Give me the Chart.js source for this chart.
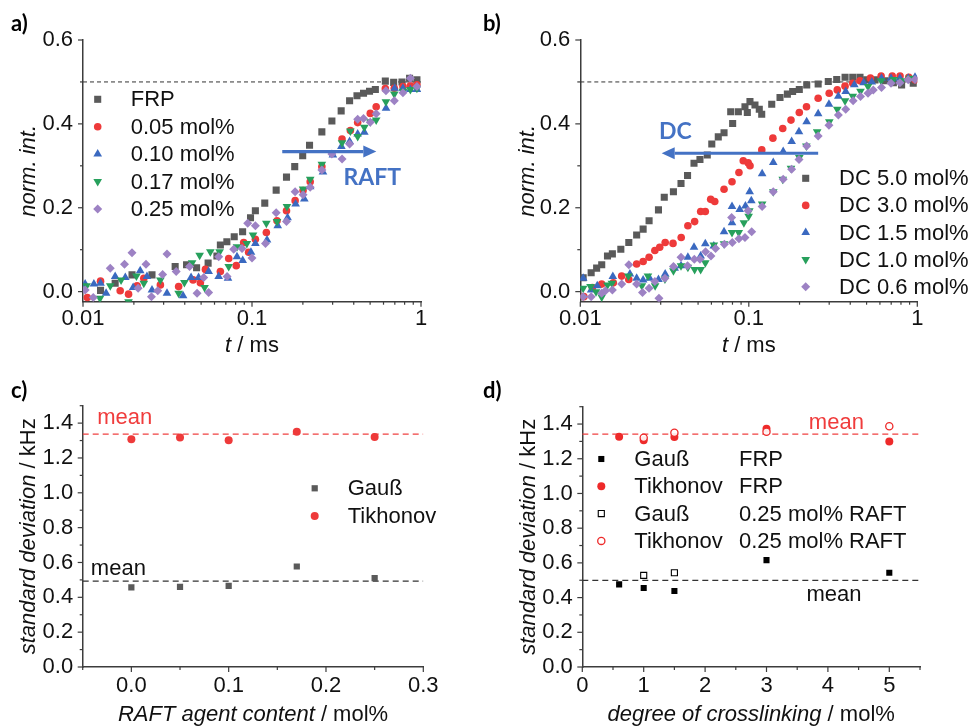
<!DOCTYPE html>
<html><head><meta charset="utf-8">
<script src="https://cdn.jsdelivr.net/npm/chart.js@4/dist/chart.umd.min.js"></script>
<style>
html,body{margin:0;padding:0;background:#fff;}
#wrap{position:relative;width:975px;height:726px;background:#fff;overflow:hidden;}
canvas{position:absolute;}
</style></head><body>
<div id="wrap">
<canvas id="ca" width="470" height="363" style="left:0;top:0"></canvas>
<canvas id="cb" width="505" height="363" style="left:470px;top:0"></canvas>
<canvas id="cc" width="470" height="363" style="left:0;top:363px"></canvas>
<canvas id="cd" width="505" height="363" style="left:470px;top:363px"></canvas>
</div>
<script>
// ---------------- DATA ----------------
// panel a: RAFT series, t / ms vs norm. int.
const A_FRP_T = [0.0127,0.0155,0.0195,0.0256,0.0351,0.041,0.047,0.055,0.062,0.065,0.071,0.0785,0.088,0.098,0.1047,0.119,0.139,0.16,0.179,0.1995,0.219,0.259,0.297,0.337,0.378,0.418,0.457,0.496,0.537,0.615,0.689,0.772,0.856,0.946];
const A_FRP_Y = [0.003,0.020,0.040,0.040,0.060,0.064,0.057,0.068,0.085,0.111,0.119,0.131,0.143,0.176,0.193,0.211,0.242,0.273,0.298,0.324,0.349,0.381,0.407,0.431,0.455,0.467,0.473,0.478,0.482,0.502,0.499,0.500,0.509,0.505];
const A_R05_T = [0.0106,0.0127,0.0166,0.0186,0.0209,0.0229,0.0287,0.0368,0.0448,0.0495,0.053,0.065,0.0728,0.0807,0.0893,0.0955,0.1047,0.1216,0.1406,0.16,0.18,0.2005,0.221,0.259,0.341,0.382,0.422,0.501,0.543,0.615,0.695,0.782,0.865,0.946];
const A_R05_Y = [-0.014,0.025,0.002,-0.006,0.014,0.032,0.016,0.012,0.028,0.021,0.053,0.048,0.079,0.062,0.117,0.094,0.125,0.141,0.169,0.193,0.217,0.241,0.262,0.298,0.364,0.384,0.403,0.425,0.441,0.484,0.485,0.489,0.491,0.493];
const A_R10_T = [0.0103,0.0116,0.0127,0.0137,0.0155,0.0178,0.0198,0.0218,0.0239,0.0256,0.0314,0.0391,0.0436,0.0483,0.0554,0.0635,0.0721,0.0815,0.0881,0.0986,0.1047,0.1227,0.142,0.1624,0.1812,0.204,0.221,0.263,0.301,0.338,0.378,0.422,0.462,0.621,0.698,0.782,0.865,0.946];
const A_R10_Y = [0.018,0.018,0.020,-0.004,0.036,0.034,0.010,0.050,0.036,0.004,-0.004,-0.010,0.034,0.034,0.048,0.036,0.032,0.083,0.074,0.094,0.115,0.123,0.157,0.176,0.209,0.221,0.250,0.285,0.326,0.346,0.358,0.376,0.380,0.437,0.485,0.485,0.482,0.482];
const A_R17_T = [0.0105,0.0126,0.0145,0.0168,0.0186,0.0207,0.0229,0.0287,0.0368,0.0398,0.0442,0.049,0.0524,0.0567,0.0643,0.0728,0.0815,0.0932,0.1014,0.1216,0.1406,0.161,0.2005,0.221,0.259,0.341,0.382,0.422,0.462,0.501,0.543,0.62,0.695,0.782,0.865,0.946];
const A_R17_Y = [0.014,-0.016,0.014,0.028,-0.024,0.037,0.020,0.028,-0.004,0.022,0.069,0.087,0.010,0.095,0.095,0.060,0.107,0.115,0.135,0.163,0.167,0.203,0.245,0.268,0.304,0.355,0.383,0.370,0.392,0.405,0.409,0.453,0.471,0.478,0.482,0.485];
const A_R25_T = [0.0103,0.0115,0.0145,0.0176,0.0195,0.0212,0.0236,0.0254,0.0277,0.0296,0.0314,0.0356,0.0427,0.0473,0.0518,0.0554,0.0635,0.0712,0.0779,0.0873,0.0943,0.1,0.1047,0.1202,0.139,0.16,0.18,0.2005,0.221,0.259,0.297,0.341,0.378,0.422,0.457,0.501,0.543,0.62,0.695,0.782,0.865,0.946];
const A_R25_Y = [0.004,-0.014,0.056,0.065,0.093,0.008,0.065,-0.012,0.002,0.041,0.090,0.048,0.060,-0.004,0.034,-0.002,0.083,0.036,0.101,0.103,0.163,0.080,0.157,0.115,0.188,0.167,0.238,0.231,0.249,0.290,0.328,0.316,0.352,0.411,0.413,0.404,0.424,0.479,0.455,0.474,0.509,0.489];

// panel b: degree of crosslinking series
const B_DC50_T = [0.0104,0.0116,0.0125,0.0134,0.0145,0.0155,0.0174,0.0194,0.0216,0.0236,0.0256,0.0291,0.0315,0.0357,0.0396,0.0433,0.0473,0.0513,0.0567,0.0603,0.0659,0.0713,0.0781,0.0802,0.0867,0.0949,0.098,0.1016,0.1088,0.1154,0.1193,0.1368,0.1532,0.1694,0.182,0.1994,0.2207,0.258,0.2963,0.3325,0.3727,0.414,0.457,0.501,0.561,0.643,0.721,0.807,0.946];
const B_DC50_Y = [0.033,0.045,0.056,0.064,0.085,0.090,0.101,0.117,0.135,0.149,0.169,0.195,0.225,0.238,0.258,0.277,0.306,0.315,0.326,0.352,0.369,0.379,0.429,0.401,0.429,0.441,0.427,0.453,0.445,0.435,0.423,0.447,0.463,0.471,0.477,0.482,0.493,0.495,0.501,0.506,0.511,0.511,0.511,0.505,0.505,0.503,0.498,0.493,0.497];
const B_DC30_T = [0.0105,0.0118,0.0134,0.0157,0.0176,0.0194,0.0216,0.0236,0.0256,0.0277,0.0296,0.0319,0.0355,0.0397,0.0435,0.0477,0.0518,0.0552,0.0594,0.0628,0.0713,0.0795,0.0874,0.0927,0.0992,0.1017,0.1194,0.139,0.159,0.178,0.1994,0.22,0.258,0.30,0.335,0.3725,0.414,0.457,0.527,0.61,0.71,0.79,0.89,0.969];
const B_DC30_Y = [-0.012,0.010,0.018,0.021,0.037,0.029,0.066,0.072,0.082,0.098,0.106,0.117,0.115,0.129,0.157,0.167,0.191,0.191,0.220,0.215,0.244,0.262,0.284,0.312,0.307,0.300,0.338,0.366,0.389,0.409,0.427,0.441,0.461,0.473,0.481,0.490,0.497,0.503,0.509,0.514,0.514,0.514,0.511,0.505];
const B_DC15_T = [0.0104,0.0116,0.0126,0.0156,0.0197,0.0216,0.0236,0.0258,0.0291,0.0319,0.0363,0.0396,0.0435,0.0473,0.0518,0.0552,0.062,0.0713,0.0795,0.0795,0.0883,0.0955,0.1012,0.1035,0.120,0.1397,0.160,0.1796,0.1985,0.2205,0.258,0.299,0.340,0.376,0.423,0.48,0.537,0.613,0.698,0.789,0.883,0.969];
const B_DC15_Y = [0.032,0.004,0.014,0.036,0.042,0.032,0.028,0.032,0.029,0.042,0.056,0.062,0.082,0.106,0.085,0.114,0.109,0.143,0.164,0.203,0.196,0.204,0.238,0.217,0.281,0.308,0.334,0.358,0.381,0.405,0.424,0.447,0.466,0.477,0.493,0.498,0.500,0.509,0.509,0.509,0.509,0.511];
const B_DC10_T = [0.0104,0.0115,0.0124,0.0134,0.0145,0.0154,0.0193,0.0232,0.0252,0.0278,0.0318,0.0357,0.0396,0.0435,0.0477,0.0518,0.0552,0.062,0.0713,0.0795,0.0872,0.0935,0.0998,0.1007,0.120,0.1397,0.159,0.178,0.1994,0.2196,0.2545,0.3005,0.335,0.3725,0.414,0.46,0.51,0.61,0.721,0.81,0.9];
const B_DC10_Y = [0.008,0.012,0.000,-0.013,0.016,0.020,0.037,0.014,0.037,0.014,0.030,0.050,0.062,0.058,0.053,0.053,0.069,0.111,0.114,0.141,0.141,0.164,0.180,0.193,0.209,0.238,0.268,0.294,0.320,0.347,0.381,0.405,0.435,0.455,0.466,0.478,0.489,0.503,0.506,0.503,0.509];
const B_DC06_T = [0.0104,0.0116,0.0134,0.0141,0.0155,0.0176,0.0194,0.0216,0.0234,0.0256,0.0277,0.0293,0.0318,0.0357,0.0396,0.0433,0.0475,0.0513,0.0554,0.0596,0.0635,0.0716,0.0791,0.0798,0.0874,0.0949,0.099,0.104,0.120,0.1397,0.160,0.1796,0.1985,0.2205,0.258,0.299,0.340,0.376,0.416,0.46,0.51,0.548,0.613,0.698,0.789,0.883,0.969];
const B_DC06_Y = [-0.012,-0.012,-0.004,0.002,0.004,0.018,0.064,0.018,-0.002,0.008,0.024,-0.016,0.032,0.060,0.082,0.062,0.077,0.077,0.095,0.085,0.103,0.113,0.177,0.117,0.126,0.129,0.193,0.143,0.203,0.238,0.268,0.292,0.315,0.347,0.371,0.397,0.421,0.435,0.455,0.465,0.473,0.481,0.487,0.497,0.498,0.505,0.506];
const AB_PLATEAU = 0.5;

// panel c: standard deviation vs RAFT agent content
const C_RAFT = [0, 0.05, 0.1, 0.17, 0.25];
const C_GAUSS = [0.457, 0.460, 0.466, 0.577, 0.510];
const C_TIKH = [1.307, 1.318, 1.301, 1.351, 1.320];
const C_MEAN_GAUSS = 0.493;
const C_MEAN_TIKH = 1.337;

// panel d: standard deviation vs degree of crosslinking
const D_DC = [0.6, 1.0, 1.5, 3.0, 5.0];
const D_GAUSS_FRP = [0.476, 0.455, 0.438, 0.616, 0.543];
const D_TIKH_FRP = [1.327, 1.306, 1.325, 1.373, 1.300];
const D_DC_RAFT_G = [1.0, 1.5];
const D_GAUSS_RAFT = [0.528, 0.543];
const D_DC_RAFT_T = [1.0, 1.5, 3.0, 5.0];
const D_TIKH_RAFT = [1.321, 1.350, 1.356, 1.387];
const D_MEAN_GAUSS = 0.499;
const D_MEAN_TIKH = 1.342;

// tick labels
const LOG_MAJOR = [0.01, 0.1, 1];
const LOG_MINOR = [0.02,0.03,0.04,0.05,0.06,0.07,0.08,0.09,0.2,0.3,0.4,0.5,0.6,0.7,0.8,0.9];
const AB_Y_MAJOR = [0, 0.2, 0.4, 0.6];
const AB_Y_MINOR = [0.1, 0.3, 0.5];
const CD_Y_MAJOR = [0, 0.2, 0.4, 0.6, 0.8, 1.0, 1.2, 1.4];
const CD_Y_MINOR = [0.1, 0.3, 0.5, 0.7, 0.9, 1.1, 1.3, 1.5];
const C_X_MAJOR = [0, 0.1, 0.2, 0.3];
const C_X_MINOR = [-0.05, 0.05, 0.15, 0.25];
const D_X_MAJOR = [0, 1, 2, 3, 4, 5];
const D_X_MINOR = [0.5, 1.5, 2.5, 3.5, 4.5, 5.5];

// ---------------- STYLE ----------------
const FONT = '"Liberation Sans", Arial, sans-serif';
const BFONT = 'Lato, "Open Sans", sans-serif';
const AXIS = '#3c3c3c';
const TXT = '#111';
const GRAY = '#5a5a5a', RED = '#ee3a3a', BLUE = '#3a69c0', GREEN = '#27a05c', PURPLE = '#9d82c4', ARROW = '#4472c4';
const FS = 22;

function pts(xs, ys) { return xs.map((x, i) => ({x, y: ys[i]})); }
function sc(label, xs, ys, style, color, r, extra) {
  return Object.assign({label, data: pts(xs, ys), pointStyle: style, pointRadius: r, pointHoverRadius: r,
    pointBackgroundColor: color, pointBorderColor: color, pointBorderWidth: 0, showLine: false}, extra || {});
}
function hline(x0, x1, y, color, dash, w) {
  return {label: '_line', data: [{x: x0, y}, {x: x1, y}], showLine: true, borderColor: color, borderWidth: w,
    borderDash: dash, pointRadius: 0, pointHoverRadius: 0, fill: false, order: 50};
}
function axis(type, min, max, major, fmt, pos, size, pad) {
  return {
    type, min, max, position: pos,
    afterBuildTicks: s => { s.ticks = major.map(v => ({value: v})); },
    afterFit: s => { if (pos === 'bottom') s.height = size; else s.width = size; },
    ticks: {callback: fmt, font: {family: FONT, size: FS}, color: TXT, padding: pad, autoSkip: false, maxRotation: 0, minRotation: 0},
    grid: {display: true, drawOnChartArea: false, drawTicks: false},
    border: {display: true, color: AXIS, width: 1.5}
  };
}

function drawMarker(ctx, m, x, y) {
  const r = m.r;
  ctx.save();
  ctx.beginPath();
  if (m.style === 'rect') { const s = r * Math.SQRT1_2; ctx.rect(x - s, y - s, 2 * s, 2 * s); }
  else if (m.style === 'circle') { ctx.arc(x, y, r, 0, Math.PI * 2); }
  else if (m.style === 'triangle') { ctx.moveTo(x, y - r); ctx.lineTo(x + r * 0.866, y + r / 2); ctx.lineTo(x - r * 0.866, y + r / 2); ctx.closePath(); }
  else if (m.style === 'down') { ctx.moveTo(x, y + r); ctx.lineTo(x + r * 0.866, y - r / 2); ctx.lineTo(x - r * 0.866, y - r / 2); ctx.closePath(); }
  else if (m.style === 'rectRot') { ctx.moveTo(x - r, y); ctx.lineTo(x, y - r); ctx.lineTo(x + r, y); ctx.lineTo(x, y + r); ctx.closePath(); }
  if (m.fill) { ctx.fillStyle = m.fill; ctx.fill(); }
  if (m.stroke) { ctx.strokeStyle = m.stroke; ctx.lineWidth = m.lw || 1; ctx.stroke(); }
  ctx.restore();
}
function drawRich(ctx, segs, x, y, size, align) {
  const fonts = segs.map(s => (s.i ? 'italic ' : '') + size + 'px ' + FONT);
  let total = 0;
  const w = segs.map((s, k) => { ctx.font = fonts[k]; const m = ctx.measureText(s.t).width; total += m; return m; });
  let cx = align === 'center' ? x - total / 2 : x;
  ctx.textAlign = 'left';
  segs.forEach((s, k) => { ctx.font = fonts[k]; ctx.fillText(s.t, cx, y); cx += w[k]; });
}

const deco = {
  id: 'deco',
  afterDraw(chart, args, o) {
    const ctx = chart.ctx, ca = chart.chartArea, xs = chart.scales.x, ys = chart.scales.y;
    ctx.save();
    // tick marks
    ctx.strokeStyle = AXIS; ctx.lineWidth = 1.2;
    [[o.xMajor, 5], [o.xMinor, 3]].forEach(([list, len]) => list.forEach(v => {
      const p = xs.getPixelForValue(v);
      ctx.beginPath(); ctx.moveTo(p, ca.bottom); ctx.lineTo(p, ca.bottom + len); ctx.stroke();
    }));
    [[o.yMajor, 5], [o.yMinor, 3]].forEach(([list, len]) => list.forEach(v => {
      const p = ys.getPixelForValue(v);
      ctx.beginPath(); ctx.moveTo(ca.left, p); ctx.lineTo(ca.left - len, p); ctx.stroke();
    }));
    // axis titles
    ctx.fillStyle = TXT; ctx.textBaseline = 'alphabetic';
    drawRich(ctx, o.xTitle, (ca.left + ca.right) / 2, o.xTitleY, FS, 'center');
    ctx.save();
    ctx.translate(o.yTitleX, (ca.top + ca.bottom) / 2);
    ctx.rotate(-Math.PI / 2);
    drawRich(ctx, o.yTitle, 0, 0, FS, 'center');
    ctx.restore();
    // panel label
    ctx.font = 'bold 22px ' + BFONT; ctx.textAlign = 'left'; ctx.fillStyle = '#000';
    ctx.fillText(o.panel.t, o.panel.x, o.panel.y);
    // arrows
    (o.arrows || []).forEach(a => {
      const x0 = xs.getPixelForValue(a.x0), x1 = xs.getPixelForValue(a.x1), y = ys.getPixelForValue(a.y);
      const dir = Math.sign(x1 - x0), hl = 13, hw = 6;
      ctx.strokeStyle = ARROW; ctx.fillStyle = ARROW; ctx.lineWidth = 3.2;
      ctx.beginPath(); ctx.moveTo(x0, y); ctx.lineTo(x1 - dir * hl, y); ctx.stroke();
      ctx.beginPath(); ctx.moveTo(x1, y); ctx.lineTo(x1 - dir * hl, y - hw); ctx.lineTo(x1 - dir * hl, y + hw); ctx.closePath(); ctx.fill();
    });
    // text notes
    (o.notes || []).forEach(n => {
      ctx.font = n.font; ctx.fillStyle = n.color; ctx.textAlign = n.align; ctx.textBaseline = 'middle';
      ctx.fillText(n.t, xs.getPixelForValue(n.x), ys.getPixelForValue(n.y));
    });
    // legend
    if (o.legend) {
      const L = o.legend;
      ctx.textBaseline = 'middle'; ctx.textAlign = 'left'; ctx.fillStyle = TXT; ctx.font = FS + 'px ' + FONT;
      L.items.forEach((it, k) => {
        const y = L.y0 + k * L.dy;
        drawMarker(ctx, it.m, L.mx, y);
        ctx.fillStyle = TXT;
        it.t.forEach((t, j) => ctx.fillText(t, L.tx[j], y + 1));
      });
    }
    ctx.restore();
  }
};

function make(id, datasets, scales, padding, decoOpts) {
  return new Chart(document.getElementById(id), {
    type: 'scatter',
    data: {datasets},
    options: {
      responsive: false, animation: false, devicePixelRatio: 1, events: [],
      layout: {padding},
      scales,
      plugins: {legend: {display: false}, tooltip: {enabled: false}, deco: decoOpts}
    },
    plugins: [deco]
  });
}

const logFmt = v => String(v);
const f1 = v => v.toFixed(1);
const MRK = {
  sq: {style: 'rect', r: 5, fill: GRAY},
  ci: {style: 'circle', r: 3.8, fill: RED},
  tr: {style: 'triangle', r: 5, fill: BLUE},
  dn: {style: 'down', r: 5, fill: GREEN},
  di: {style: 'rectRot', r: 4.5, fill: PURPLE}
};

// ---------- panel a ----------
make('ca', [
  sc('FRP', A_FRP_T, A_FRP_Y, 'rect', GRAY, 5, {order: 5}),
  sc('0.05 mol%', A_R05_T, A_R05_Y, 'circle', RED, 3.8, {order: 4}),
  sc('0.10 mol%', A_R10_T, A_R10_Y, 'triangle', BLUE, 5, {order: 3}),
  sc('0.17 mol%', A_R17_T, A_R17_Y, 'triangle', GREEN, 5, {order: 2, pointRotation: 180}),
  sc('0.25 mol%', A_R25_T, A_R25_Y, 'rectRot', PURPLE, 4.5, {order: 1}),
  hline(0.01, 1, AB_PLATEAU, '#333', [4, 3], 1)
], {
  x: axis('logarithmic', 0.01, 1, LOG_MAJOR, logFmt, 'bottom', 61.3, 4),
  y: axis('linear', -0.024, 0.6, AB_Y_MAJOR, f1, 'left', 83, 10)
}, {left: 0, top: 40, right: 49, bottom: 0}, {
  xMajor: LOG_MAJOR, xMinor: LOG_MINOR, yMajor: AB_Y_MAJOR, yMinor: AB_Y_MINOR,
  xTitle: [{t: 't', i: true}, {t: ' / ms'}], xTitleY: 352,
  yTitle: [{t: 'norm. int.', i: true}], yTitleX: 35,
  panel: {t: 'a)', x: 11, y: 31},
  arrows: [{x0: 0.151, x1: 0.544, y: 0.334}],
  notes: [{t: 'RAFT', x: 0.515, y: 0.273, color: ARROW, font: 'bold 23px ' + BFONT, align: 'center'}],
  legend: {mx: 97.7, tx: [130.7], y0: 99.3, dy: 27.4, items: [
    {m: MRK.sq, t: ['FRP']}, {m: MRK.ci, t: ['0.05 mol%']}, {m: MRK.tr, t: ['0.10 mol%']},
    {m: MRK.dn, t: ['0.17 mol%']}, {m: MRK.di, t: ['0.25 mol%']}]}
});

// ---------- panel b ----------
make('cb', [
  sc('DC 5.0 mol%', B_DC50_T, B_DC50_Y, 'rect', GRAY, 5, {order: 5}),
  sc('DC 3.0 mol%', B_DC30_T, B_DC30_Y, 'circle', RED, 3.8, {order: 4}),
  sc('DC 1.5 mol%', B_DC15_T, B_DC15_Y, 'triangle', BLUE, 5, {order: 3}),
  sc('DC 1.0 mol%', B_DC10_T, B_DC10_Y, 'triangle', GREEN, 5, {order: 2, pointRotation: 180}),
  sc('DC 0.6 mol%', B_DC06_T, B_DC06_Y, 'rectRot', PURPLE, 4.5, {order: 1}),
  hline(0.01, 1, AB_PLATEAU, '#333', [4, 3], 1)
], {
  x: axis('logarithmic', 0.01, 1, LOG_MAJOR, logFmt, 'bottom', 61.3, 4),
  y: axis('linear', -0.024, 0.6, AB_Y_MAJOR, f1, 'left', 110.3, 10)
}, {left: 0, top: 40, right: 57.7, bottom: 0}, {
  xMajor: LOG_MAJOR, xMinor: LOG_MINOR, yMajor: AB_Y_MAJOR, yMinor: AB_Y_MINOR,
  xTitle: [{t: 't', i: true}, {t: ' / ms'}], xTitleY: 352,
  yTitle: [{t: 'norm. int.', i: true}], yTitleX: 63.5,
  panel: {t: 'b)', x: 13, y: 31},
  arrows: [{x0: 0.258, x1: 0.0304, y: 0.330}],
  notes: [{t: 'DC', x: 0.0367, y: 0.382, color: ARROW, font: 'bold 23px ' + BFONT, align: 'center'}],
  legend: {mx: 335.7, tx: [369], y0: 178.3, dy: 27.1, items: [
    {m: MRK.sq, t: ['DC 5.0 mol%']}, {m: MRK.ci, t: ['DC 3.0 mol%']}, {m: MRK.tr, t: ['DC 1.5 mol%']},
    {m: MRK.dn, t: ['DC 1.0 mol%']}, {m: MRK.di, t: ['DC 0.6 mol%']}]}
});

// ---------- panel c ----------
make('cc', [
  sc('Gauß', C_RAFT, C_GAUSS, 'rect', GRAY, 4.4, {order: 2}),
  sc('Tikhonov', C_RAFT, C_TIKH, 'circle', RED, 4, {order: 1}),
  hline(-0.05, 0.3, C_MEAN_TIKH, '#f04040', [6, 4], 1.3),
  hline(-0.05, 0.3, C_MEAN_GAUSS, '#333', [6, 4], 1.3)
], {
  x: axis('linear', -0.05, 0.3, C_X_MAJOR, f1, 'bottom', 59, 5.5),
  y: axis('linear', 0, 1.5, CD_Y_MAJOR, f1, 'left', 82.7, 9.5)
}, {left: 0, top: 42.7, right: 46.7, bottom: 0}, {
  xMajor: C_X_MAJOR, xMinor: C_X_MINOR, yMajor: CD_Y_MAJOR, yMinor: CD_Y_MINOR,
  xTitle: [{t: 'RAFT agent content', i: true}, {t: ' / mol%'}], xTitleY: 358,
  yTitle: [{t: 'standard deviation', i: true}, {t: ' / kHz'}], yTitleX: 35,
  panel: {t: 'c)', x: 11, y: 35},
  notes: [
    {t: 'mean', x: -0.0351, y: 1.427, color: '#f03c3c', font: FS + 'px ' + FONT, align: 'left'},
    {t: 'mean', x: -0.0416, y: 0.562, color: TXT, font: FS + 'px ' + FONT, align: 'left'}],
  legend: {mx: 314.7, tx: [347.7], y0: 125.3, dy: 27.7, items: [
    {m: {style: 'rect', r: 4.4, fill: GRAY}, t: ['Gauß']}, {m: {style: 'circle', r: 4, fill: RED}, t: ['Tikhonov']}]}
});

// ---------- panel d ----------
make('cd', [
  sc('Gauß FRP', D_DC, D_GAUSS_FRP, 'rect', '#000', 4.3, {order: 4}),
  sc('Tikhonov FRP', D_DC, D_TIKH_FRP, 'circle', '#ee2a2a', 4, {order: 3}),
  sc('Gauß 0.25 mol% RAFT', D_DC_RAFT_G, D_GAUSS_RAFT, 'rect', '#000', 4.3, {order: 2, pointBackgroundColor: 'rgba(0,0,0,0)', pointBorderWidth: 1.1}),
  sc('Tikhonov 0.25 mol% RAFT', D_DC_RAFT_T, D_TIKH_RAFT, 'circle', '#ee2a2a', 3.6, {order: 1, pointBackgroundColor: 'rgba(255,255,255,0.9)', pointBorderWidth: 1.3}),
  hline(0, 5.5, D_MEAN_TIKH, '#f04040', [6, 4], 1.3),
  hline(0, 5.5, D_MEAN_GAUSS, '#333', [6, 4], 1.3)
], {
  x: axis('linear', 0, 5.5, D_X_MAJOR, v => String(v), 'bottom', 59, 5.5),
  y: axis('linear', 0, 1.5, CD_Y_MAJOR, f1, 'left', 112.3, 9.5)
}, {left: 0, top: 43.7, right: 55, bottom: 0}, {
  xMajor: D_X_MAJOR, xMinor: D_X_MINOR, yMajor: CD_Y_MAJOR, yMinor: CD_Y_MINOR,
  xTitle: [{t: 'degree of crosslinking', i: true}, {t: ' / mol%'}], xTitleY: 358,
  yTitle: [{t: 'standard deviation', i: true}, {t: ' / kHz'}], yTitleX: 65,
  panel: {t: 'd)', x: 13, y: 35},
  notes: [
    {t: 'mean', x: 3.69, y: 1.407, color: '#f03c3c', font: FS + 'px ' + FONT, align: 'left'},
    {t: 'mean', x: 3.65, y: 0.418, color: TXT, font: FS + 'px ' + FONT, align: 'left'}],
  legend: {mx: 131.3, tx: [164.3, 269], y0: 96, dy: 27.3, items: [
    {m: {style: 'rect', r: 4.3, fill: '#000'}, t: ['Gauß', 'FRP']},
    {m: {style: 'circle', r: 4, fill: '#ee2a2a'}, t: ['Tikhonov', 'FRP']},
    {m: {style: 'rect', r: 4.3, stroke: '#000', lw: 1.1}, t: ['Gauß', '0.25 mol% RAFT']},
    {m: {style: 'circle', r: 3.6, stroke: '#ee2a2a', lw: 1.3}, t: ['Tikhonov', '0.25 mol% RAFT']}]}
});
</script>
</body></html>
